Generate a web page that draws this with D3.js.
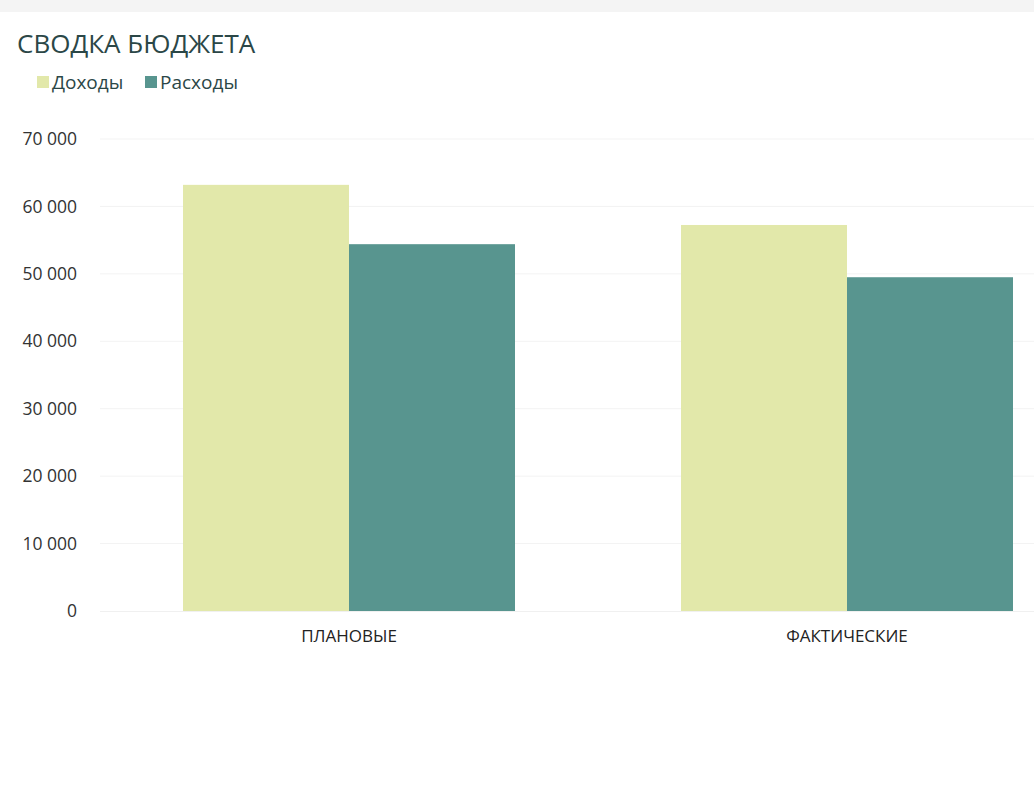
<!DOCTYPE html>
<html>
<head>
<meta charset="utf-8">
<script src="https://cdn.jsdelivr.net/npm/d3@7"></script>
<style>
  body { margin: 0; background: #fff; font-family: "Open Sans", sans-serif; }
</style>
</head>
<body>
<div id="chart"></div>
<script>
const categories = ["ПЛАНОВЫЕ", "ФАКТИЧЕСКИЕ"];
const seriesNames = ["Доходы", "Расходы"];
const income = [63200, 57250];
const expenses = [54400, 49500];
const yTicks = [0, 10000, 20000, 30000, 40000, 50000, 60000, 70000];
const colors = ["#e2e8aa", "#58958f"];

const width = 1034, height = 800;
const margin = { top: 139, right: -62, bottom: 189, left: 100 };

const svg = d3.select("#chart")
    .append("svg")
    .attr("width", width)
    .attr("height", height);

// grey strip at the very top
svg.append("rect")
    .attr("x", 0).attr("y", 0)
    .attr("width", width).attr("height", 12)
    .attr("fill", "#f4f4f4");

svg.append("text")
    .attr("x", 17).attr("y", 53)
    .attr("font-size", 26)
    .attr("fill", "#2b4747")
    .text("СВОДКА БЮДЖЕТА");

// legend
const legend = svg.append("g").attr("transform", "translate(37,76)");
const legendX = [0, 108];
seriesNames.forEach((name, i) => {
    const g = legend.append("g").attr("transform", `translate(${legendX[i]},0)`);
    g.append("rect").attr("width", 12).attr("height", 12).attr("fill", colors[i]);
    g.append("text")
        .attr("x", 15).attr("y", 13)
        .attr("font-size", 19)
        .attr("fill", "#2b4747")
        .text(name);
});

const x0 = d3.scaleBand()
    .domain(categories)
    .range([margin.left, width - margin.right])
    .paddingInner(1 / 3)
    .paddingOuter(1 / 6);

const x1 = d3.scaleBand()
    .domain(seriesNames)
    .range([0, x0.bandwidth()]);

const y = d3.scaleLinear()
    .domain([0, 70000])
    .range([height - margin.bottom, margin.top]);

const fmt = d => d3.format(",")(d).replace(/,/g, " ");

// gridlines
svg.append("g")
    .selectAll("line")
    .data(yTicks.slice(1))
    .join("line")
    .attr("x1", margin.left).attr("x2", width)
    .attr("y1", d => y(d)).attr("y2", d => y(d))
    .attr("stroke", "#f3f3f3")
    .attr("stroke-width", 1);

const yAxis = svg.append("g")
    .attr("transform", `translate(${margin.left - 23},0)`)
    .call(d3.axisLeft(y).tickValues(yTicks).tickFormat(fmt).tickSize(0).tickPadding(0));
yAxis.select(".domain").remove();
yAxis.selectAll("text")
    .attr("font-family", "Open Sans, sans-serif")
    .attr("font-size", 17.5)
    .attr("fill", "#333");

const data = categories.map((c, i) => ({ cat: c, values: [income[i], expenses[i]] }));

svg.append("g")
    .selectAll("g")
    .data(data)
    .join("g")
    .attr("transform", d => `translate(${x0(d.cat)},0)`)
    .selectAll("rect")
    .data(d => d.values.map((v, i) => ({ name: seriesNames[i], value: v, i })))
    .join("rect")
    .attr("x", d => x1(d.name))
    .attr("y", d => y(d.value))
    .attr("width", x1.bandwidth())
    .attr("height", d => y(0) - y(d.value))
    .attr("fill", d => colors[d.i]);

// baseline
svg.append("line")
    .attr("x1", margin.left).attr("x2", width)
    .attr("y1", y(0) + 0.5).attr("y2", y(0) + 0.5)
    .attr("stroke", "#f0f0f0");

const xAxis = svg.append("g")
    .attr("transform", `translate(0,${y(0)})`)
    .call(d3.axisBottom(x0).tickSize(0).tickPadding(19));
xAxis.select(".domain").remove();
xAxis.selectAll("text")
    .attr("font-family", "Open Sans, sans-serif")
    .attr("font-size", 17)
    .attr("fill", "#222");
</script>
</body>
</html>
